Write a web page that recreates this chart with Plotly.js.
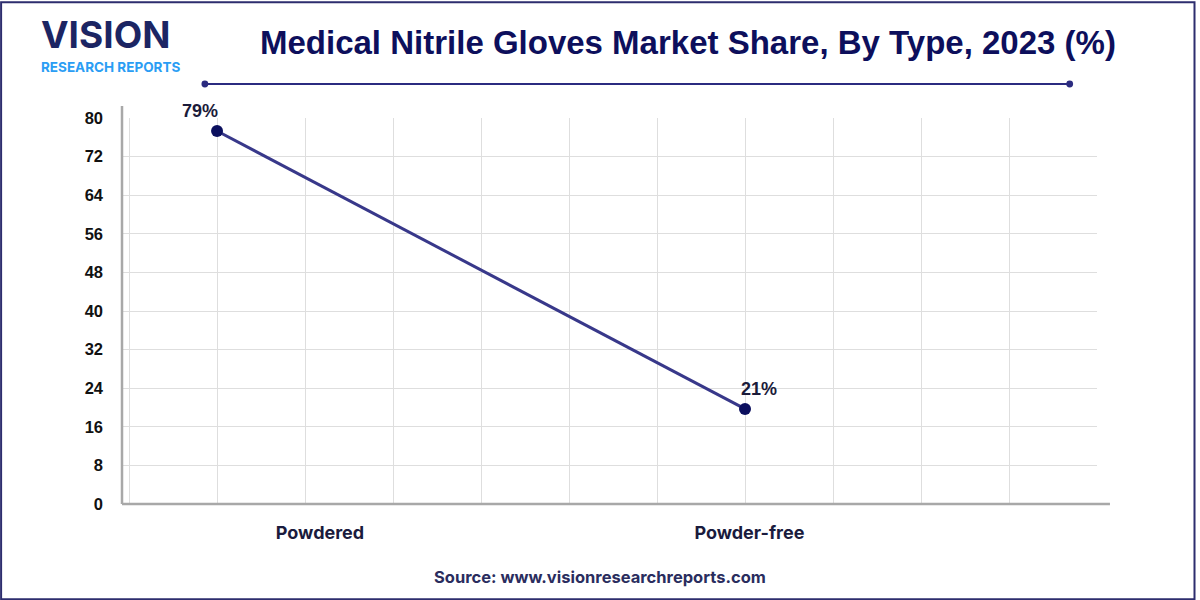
<!DOCTYPE html>
<html>
<head>
<meta charset="utf-8">
<script src="https://cdn.plot.ly/plotly-3.0.1.min.js"></script>
<style>
  html, body { margin: 0; padding: 0; background: #fff; }
  #chart { width: 1200px; height: 600px; }
</style>
</head>
<body>
<div id="chart"></div>
<script>
// chart data
var types = ['Powdered', 'Powder-free']
var typeSlots = [0, 6]          // where each type sits on the 0..10 grid
var shareValues = [77.3, 19.7]  // plotted level
var shareLabels = ['79%', '21%']
var yTicks = [0, 8, 16, 24, 32, 40, 48, 56, 64, 72, 80]
var labelSlots = [1.17, 6.05]   // category tick labels sit off the points

var lineColor = '#38388a'

var trace = {
    type: 'scatter',
    mode: 'lines+markers',
    x: typeSlots,
    y: shareValues,
    line: {color: lineColor, width: 3},
    marker: {color: '#0b0f5e', size: 12},
    hoverinfo: 'skip',
    cliponaxis: false
}

var annotations = []
// value labels
var labelShift = [-17, 14]
shareValues.forEach((v, i) => {
    annotations.push({
        x: typeSlots[i], y: v, xref: 'x', yref: 'y',
        text: '<b>' + shareLabels[i] + '</b>',
        showarrow: false, yanchor: 'bottom',
        xshift: labelShift[i], yshift: 8,
        font: {family: 'Liberation Sans, Arial', size: 18, color: '#1b1b3a'}
    })
})
// logo + title + source
annotations.push(
    {xref: 'paper', yref: 'paper', x: -0.084, y: 1.217, xanchor: 'left', yanchor: 'middle',
     text: '<b>VISION</b>', showarrow: false, borderpad: 0,
     font: {family: 'Inter, Roboto', size: 37, color: '#1c2563'}},
    {xref: 'paper', yref: 'paper', x: -0.084, y: 1.133, xanchor: 'left', yanchor: 'middle',
     text: '<b>RESEARCH REPORTS</b>', showarrow: false, borderpad: 0,
     font: {family: 'Inter, Roboto', size: 13.5, color: '#2a9df4'}},
    {xref: 'paper', yref: 'paper', x: 0.58, y: 1.195, xanchor: 'center', yanchor: 'middle',
     text: '<b>Medical Nitrile Gloves Market Share, By Type, 2023 (%)</b>', showarrow: false,
     font: {family: 'Liberation Sans, Arial', size: 33, color: '#0d0f5c'}},
    {xref: 'paper', yref: 'paper', x: 0.49, y: -0.19, xanchor: 'center', yanchor: 'middle',
     text: '<b>Source: www.visionresearchreports.com</b>', showarrow: false,
     font: {family: 'Inter, Roboto', size: 16.5, color: '#2a2d5e'}}
)

var shapes = [
    // frame
    {type: 'rect', xref: 'paper', yref: 'paper', x0: -0.124, x1: 1.1, y0: -0.247, y1: 1.3,
     line: {color: '#2d2d6e', width: 2}},
    // header rule with end dots
    {type: 'line', xref: 'paper', yref: 'paper', x0: 0.085, x1: 0.972, y0: 1.088, y1: 1.088,
     line: {color: '#2b2b80', width: 2}},
    {type: 'circle', xref: 'paper', yref: 'paper', x0: 0.0815, x1: 0.0885, y0: 1.079, y1: 1.097,
     fillcolor: '#2b2b80', line: {width: 0}},
    {type: 'circle', xref: 'paper', yref: 'paper', x0: 0.9685, x1: 0.9755, y0: 1.079, y1: 1.097,
     fillcolor: '#2b2b80', line: {width: 0}},
    // axis lines running past the grid
    {type: 'line', xref: 'paper', yref: 'paper', x0: 0, x1: 0, y0: 0, y1: 1.031,
     line: {color: '#a8a8a8', width: 2.5}},
    {type: 'line', xref: 'paper', yref: 'paper', x0: 0, x1: 1.0133, y0: 0, y1: 0,
     line: {color: '#a8a8a8', width: 2.5}}
]

var layout = {
    width: 1200,
    height: 600,
    margin: {l: 122, r: 103, t: 118, b: 96},
    paper_bgcolor: '#ffffff',
    plot_bgcolor: '#ffffff',
    showlegend: false,
    xaxis: {
        type: 'linear',
        range: [-1.08, 10],
        tickmode: 'array',
        tickvals: labelSlots,
        ticktext: types.map(t => '<b>' + t + '</b>'),
        ticks: '',
        ticklabelstandoff: 16,
        showgrid: false,
        zeroline: false,
        showline: false,
        tickfont: {family: 'Inter, Roboto', size: 18, color: '#1a1b3d'},
        minor: {tickmode: 'linear', tick0: 0, dtick: 1, showgrid: true, gridcolor: '#dedede', gridwidth: 1, ticks: ''},
        fixedrange: true
    },
    yaxis: {
        range: [0, 80],
        tickmode: 'array',
        tickvals: yTicks,
        ticktext: yTicks.map(t => '<b>' + t + '</b>'),
        ticks: '',
        ticklabelstandoff: 18,
        showgrid: true,
        gridcolor: '#dedede',
        gridwidth: 1,
        zeroline: false,
        showline: false,
        tickfont: {family: 'Liberation Sans, Arial', size: 16.5, color: '#111111'},
        fixedrange: true
    },
    annotations: annotations,
    shapes: shapes
}

Plotly.newPlot('chart', [trace], layout, {staticPlot: true, displayModeBar: false})
</script>
</body>
</html>
